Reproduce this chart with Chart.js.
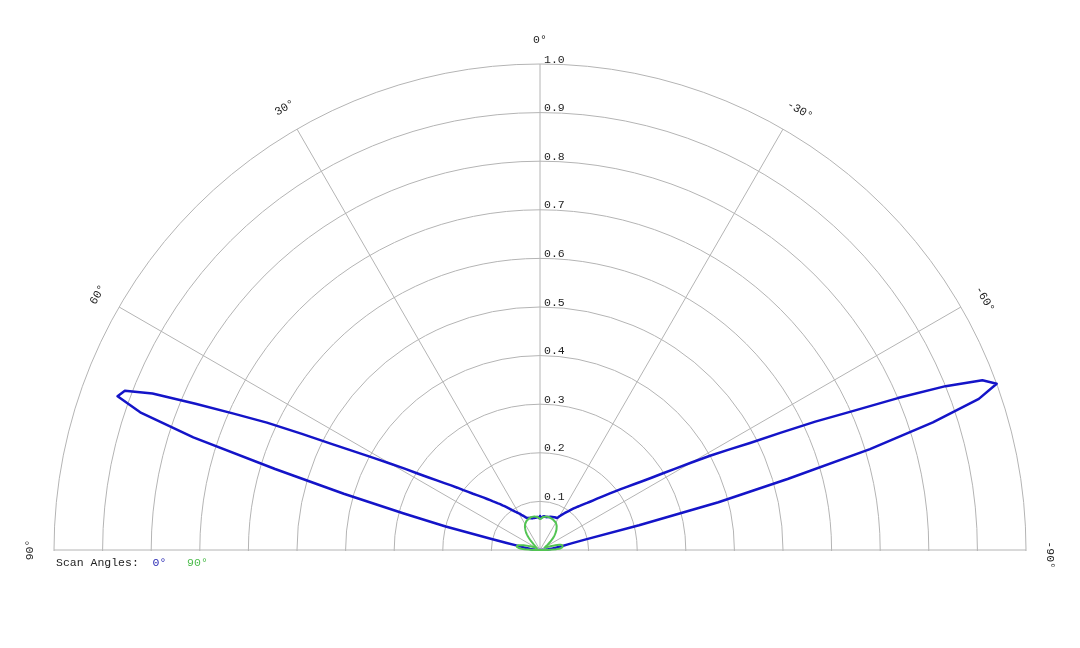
<!DOCTYPE html>
<html>
<head>
<meta charset="utf-8">
<title>Scan Angles</title>
<script src="https://cdn.jsdelivr.net/npm/chart.js@4.4.1/dist/chart.umd.min.js"></script>
<style>
  html, body { margin: 0; padding: 0; background: #fff; overflow: hidden; }
  #wrap { position: relative; width: 1080px; height: 648px; overflow: hidden; }
  #polar { position: absolute; left: 0; top: 0; }
</style>
</head>
<body>
<div id="wrap"><canvas id="polar" width="1080" height="1100"></canvas></div>
<script>
'use strict';

// angle of the first value in the arrays below, and the step between values (degrees)
// 0 is straight up, positive angles go to the left
const angleFrom = -90;
const angleStep = 1;

// scan angle 0 deg, from -90 to 90
const beam0 = [
  0, 0.003, 0.006, 0.009, 0.013, 0.017, 0.021, 0.026, 0.031, 0.037,
  0.045, 0.055, 0.068, 0.095, 0.21, 0.38, 0.53, 0.71, 0.85, 0.955,
  1.0, 0.975, 0.90, 0.80, 0.70, 0.625, 0.55, 0.485, 0.44, 0.40,
  0.36, 0.325, 0.297, 0.272, 0.252, 0.236, 0.221, 0.208, 0.196, 0.185,
  0.175, 0.166, 0.158, 0.15, 0.143, 0.137, 0.132, 0.127, 0.122, 0.118,
  0.114, 0.11, 0.106, 0.102, 0.098, 0.095, 0.092, 0.089, 0.086, 0.083,
  0.08, 0.077, 0.075, 0.074, 0.074, 0.074, 0.074, 0.073, 0.073, 0.073,
  0.072, 0.072, 0.072, 0.071, 0.071, 0.07, 0.07, 0.07, 0.069, 0.069,
  0.069, 0.069, 0.07, 0.07, 0.07, 0.069, 0.068, 0.067, 0.066, 0.066,
  0.07,
  0.066, 0.066, 0.067, 0.068, 0.068, 0.068, 0.067, 0.067, 0.067, 0.067,
  0.067, 0.067, 0.067, 0.067, 0.068, 0.068, 0.069, 0.069, 0.07, 0.07,
  0.07, 0.071, 0.072, 0.074, 0.076, 0.078, 0.08, 0.082, 0.085, 0.087,
  0.089, 0.092, 0.094, 0.097, 0.1, 0.104, 0.108, 0.112, 0.116, 0.12,
  0.125, 0.129, 0.134, 0.139, 0.145, 0.151, 0.158, 0.165, 0.172, 0.18,
  0.19, 0.2, 0.213, 0.226, 0.24, 0.256, 0.275, 0.297, 0.325, 0.355,
  0.39, 0.43, 0.48, 0.545, 0.62, 0.69, 0.77, 0.86, 0.915, 0.925,
  0.87, 0.75, 0.57, 0.42, 0.29, 0.2, 0.11, 0.07, 0.05, 0.04,
  0.034, 0.029, 0.024, 0.02, 0.016, 0.012, 0.009, 0.006, 0.003, 0
];

// scan angle 90 deg, from -90 to 90
const beam90 = [
  0, 0.014, 0.026, 0.034, 0.039, 0.043, 0.045, 0.046, 0.047, 0.047,
  0.047, 0.047, 0.046, 0.046, 0.044, 0.041, 0.037, 0.033, 0.029, 0.025,
  0.021, 0.018, 0.016, 0.014, 0.013, 0.012, 0.011, 0.011, 0.011, 0.011,
  0.012, 0.013, 0.014, 0.015, 0.017, 0.019, 0.021, 0.023, 0.025, 0.028,
  0.03, 0.033, 0.035, 0.038, 0.04, 0.042, 0.044, 0.046, 0.048, 0.05,
  0.052, 0.054, 0.055, 0.057, 0.058, 0.06, 0.061, 0.062, 0.063, 0.064,
  0.065, 0.065, 0.066, 0.066, 0.067, 0.067, 0.068, 0.068, 0.068, 0.069,
  0.069, 0.069, 0.069, 0.07, 0.07, 0.07, 0.07, 0.07, 0.07, 0.07,
  0.07, 0.069, 0.069, 0.069, 0.068, 0.068, 0.067, 0.066, 0.065, 0.064,
  0.064,
  0.065, 0.066, 0.067, 0.068, 0.068, 0.069, 0.069, 0.069, 0.07, 0.07,
  0.07, 0.07, 0.07, 0.07, 0.07, 0.07, 0.069, 0.069, 0.069, 0.068,
  0.068, 0.067, 0.067, 0.066, 0.066, 0.065, 0.064, 0.063, 0.062, 0.061,
  0.06, 0.058, 0.057, 0.055, 0.053, 0.051, 0.049, 0.047, 0.045, 0.042,
  0.039, 0.036, 0.033, 0.03, 0.026, 0.023, 0.02, 0.018, 0.016, 0.014,
  0.012, 0.011, 0.01, 0.009, 0.008, 0.008, 0.008, 0.008, 0.008, 0.008,
  0.009, 0.01, 0.011, 0.012, 0.013, 0.015, 0.017, 0.019, 0.021, 0.023,
  0.026, 0.029, 0.032, 0.035, 0.038, 0.041, 0.044, 0.046, 0.047, 0.048,
  0.048, 0.048, 0.047, 0.045, 0.042, 0.038, 0.032, 0.024, 0.013, 0
];

const seriesNames = ['0°', '90°'];
const seriesColors = ['#1414c8', '#52c452'];
const legendColors = ['#2a2ab4', '#4cbc4c'];
const spokeAngles = [90, 60, 30, 0, -30, -60, -90];
const radialTicks = [0.1, 0.2, 0.3, 0.4, 0.5, 0.6, 0.7, 0.8, 0.9, 1.0];
const radialTickLabels = ['0.1', '0.2', '0.3', '0.4', '0.5', '0.6', '0.7', '0.8', '0.9', '1.0'];

const FONT = '11.5px "Liberation Mono", "Courier New", monospace';

// radar slots go clockwise, starting at the left (90 deg)
const slots = 360 / angleStep;
let radarLabels = [];
for (let i = 0; i < slots; i++) {
  radarLabels.push(90 - i * angleStep);
}

function toRadar(values) {
  return radarLabels.map(a => {
    let k = (a - angleFrom) / angleStep;
    return (k >= 0 && k < values.length) ? values[k] : null;
  });
}

function degLabel(a) {
  return a + '°';
}

const polarDecor = {
  id: 'polarDecor',
  beforeDraw(chart) {
    // only the upper half of the plot is shown
    let s = chart.scales.r;
    let ctx = chart.ctx;
    ctx.save();
    ctx.beginPath();
    ctx.rect(0, 0, chart.width, s.yCenter + 1);
    ctx.clip();
  },
  afterDatasetsDraw(chart) {
    chart.ctx.restore();
  },
  afterDraw(chart) {
    let s = chart.scales.r;
    let ctx = chart.ctx;
    ctx.save();
    ctx.font = FONT;

    // radial tick labels along the 0 deg spoke
    ctx.fillStyle = '#1e1e1e';
    ctx.textAlign = 'left';
    ctx.textBaseline = 'alphabetic';
    for (let i = 0; i < radialTicks.length; i++) {
      let d = s.getDistanceFromCenterForValue(radialTicks[i]);
      ctx.fillText(radialTickLabels[i], s.xCenter + 4, s.yCenter - d - 1.5);
    }

    // spoke labels, turned along the circle
    ctx.textAlign = 'center';
    ctx.textBaseline = 'middle';
    let minusW = ctx.measureText('-').width;
    for (let i = 0; i < spokeAngles.length; i++) {
      let a = spokeAngles[i];
      let idx = radarLabels.indexOf(a);
      let p = s.getPointPosition(idx, s.drawingArea + 24.5);
      ctx.save();
      ctx.translate(p.x, p.y);
      ctx.rotate(-a * Math.PI / 180);
      ctx.fillText(degLabel(a), a < 0 ? minusW * 0.75 : 0, 0);
      ctx.restore();
    }

    // legend line under the plot
    let x = s.xCenter - s.drawingArea + 2;
    let y = s.yCenter + 13;
    let charW = ctx.measureText('0').width;
    ctx.textAlign = 'left';
    ctx.fillStyle = '#1e1e1e';
    ctx.fillText('Scan Angles:', x, y);
    x += ctx.measureText('Scan Angles:').width + charW * 2;
    for (let i = 0; i < seriesNames.length; i++) {
      ctx.fillStyle = legendColors[i];
      ctx.fillText(seriesNames[i], x, y);
      x += ctx.measureText(seriesNames[i]).width + charW * 3;
    }
    ctx.restore();
  }
};

const config = {
  type: 'radar',
  data: {
    labels: radarLabels,
    datasets: [
      {
        label: seriesNames[1],
        data: toRadar(beam90),
        borderColor: seriesColors[1],
        borderWidth: 2
      },
      {
        label: seriesNames[0],
        data: toRadar(beam0),
        borderColor: seriesColors[0],
        borderWidth: 2.5
      }
    ]
  },
  options: {
    responsive: false,
    animation: false,
    events: [],
    layout: {
      padding: { left: 54, right: 54, top: 64, bottom: 64 }
    },
    elements: {
      line: { fill: false, tension: 0, borderJoinStyle: 'round', spanGaps: false },
      point: { radius: 0, hoverRadius: 0 }
    },
    plugins: {
      legend: { display: false },
      tooltip: { enabled: false }
    },
    scales: {
      r: {
        min: 0,
        max: 1,
        startAngle: -90,
        ticks: { display: false, stepSize: 0.1 },
        pointLabels: { display: false },
        grid: { circular: true, color: '#b4b4b4', lineWidth: 1 },
        angleLines: {
          color: '#b4b4b4',
          lineWidth: (c) => spokeAngles.includes(radarLabels[c.index]) ? 1 : 0
        }
      }
    }
  },
  plugins: [polarDecor]
};

const myChart = new Chart(document.getElementById('polar'), config);
</script>
</body>
</html>
